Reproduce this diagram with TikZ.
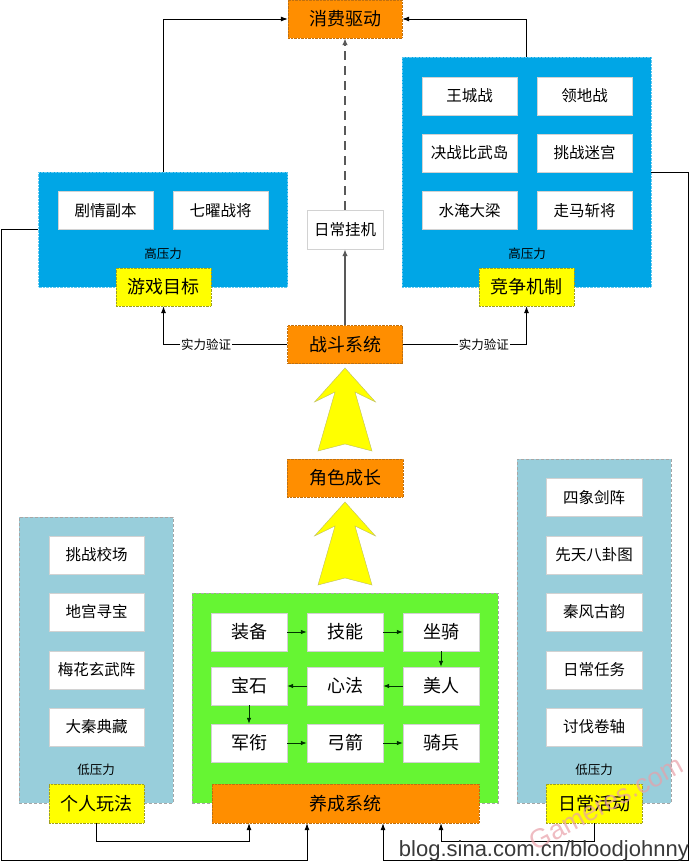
\documentclass[tikz,border=0pt]{standalone}
\usepackage{fontspec}
\newfontfamily\cjk{Noto Sans CJK SC}
\newfontfamily\latinsans{Liberation Sans}
\usetikzlibrary{arrows.meta,calc}
\definecolor{orangeC}{HTML}{FF8E00}
\definecolor{orangeD}{HTML}{C07010}
\definecolor{blueC}{HTML}{00A6E6}
\definecolor{lblue}{HTML}{98CEDB}
\definecolor{greenC}{HTML}{66F533}
\definecolor{yellowC}{HTML}{FFFF00}
\definecolor{yellowD}{HTML}{A0A020}
\definecolor{wmpink}{HTML}{E8A0A8}
\begin{document}
\begin{tikzpicture}[x=1pt,y=-1pt,
  box/.style={rectangle, inner sep=0pt, align=center, text=black},
  big/.style={font=\cjk\fontsize{18}{20}\selectfont},
  mid/.style={font=\cjk\fontsize{15.5}{17}\selectfont},
  small/.style={font=\cjk\fontsize{12.5}{14}\selectfont},
  orangebox/.style={box, big, fill=orangeC, draw=orangeD, densely dotted},
  yellowbox/.style={box, big, fill=yellowC, draw=yellowD, densely dotted, minimum width=95pt, minimum height=38pt},
  whitebox/.style={box, mid, fill=white, draw=gray!35, minimum width=95pt, minimum height=38pt},
  greenitem/.style={box, big, fill=white, draw=gray!35, minimum width=76pt, minimum height=38pt},
  blueregion/.style={box, fill=blueC, draw=blueC!60!white, densely dotted},
  lightregion/.style={box, fill=lblue, draw=gray!70, densely dashed},
  greenregion/.style={box, fill=greenC, draw=gray!70, densely dashed},
  conn/.style={draw=black, line width=0.8pt, -{Latex[length=7pt,width=5pt]}},
  gconn/.style={draw=black!80!green, line width=0.8pt, -{Latex[length=6pt,width=4.5pt]}},
  grayconn/.style={draw=gray!70!black, line width=1.4pt, -{Latex[length=7pt,width=5.5pt]}},
  yarrow/.style={fill=yellowC, draw=yellowD!70, line width=0.4pt},
  lbl/.style={box, small, fill=white, inner sep=1pt}
]
\useasboundingbox (0,0) rectangle (690,862);

% ---------- top ----------
\node[orangebox, minimum width=114pt, minimum height=38pt] (xf) at (345,19) {消费驱动};

% left blue region
\node[blueregion, minimum width=249pt, minimum height=115pt] (LB) at (163,229.5) {};
\node[whitebox] (jq) at (105.5,210.5) {剧情副本};
\node[whitebox] (qy) at (220.5,210.5) {七曜战将};
\node[box, small] (hyL) at (163,254) {高压力};
\node[yellowbox] (yxmb) at (163.5,287) {游戏目标};

% right blue region
\node[blueregion, minimum width=249pt, minimum height=230pt] (RB) at (526.5,172) {};
\node[whitebox] (wcz) at (469.5,96) {王城战};
\node[whitebox] (ldz) at (584.5,96) {领地战};
\node[whitebox] (jzbwd) at (469.5,153) {决战比武岛};
\node[whitebox] (tzmg) at (584.5,153) {挑战迷宫};
\node[whitebox] (sydl) at (469.5,210.5) {水淹大梁};
\node[whitebox] (zmzj) at (584.5,210.5) {走马斩将};
\node[box, small] (hyR) at (527,254) {高压力};
\node[yellowbox] (jzjz) at (526.5,287) {竞争机制};

% middle
\node[whitebox, minimum width=76pt, minimum height=39pt] (rcgj) at (345,229.5) {日常挂机};
\node[orangebox, minimum width=115pt, minimum height=38pt] (zd) at (345,344.5) {战斗系统};
\node[orangebox, minimum width=116pt, minimum height=38pt] (jscz) at (345,478) {角色成长};

% yellow block arrows
\foreach \dy in {0,134}{
  \begin{scope}[shift={(0,\dy)}]
    \draw[yarrow] (345,368) -- (375.5,402) -- (355,392) -- (372,451) -- (345,444) -- (318,451) -- (335,392) -- (314.5,402) -- cycle;
  \end{scope}
}

% ---------- bottom left ----------
\node[lightregion, minimum width=154pt, minimum height=286pt] (LL) at (96,660) {};
\node[whitebox] (tzxc) at (96.5,555) {挑战校场};
\node[whitebox] (dgxb) at (96.5,612) {地宫寻宝};
\node[whitebox] (mhxwz) at (96.5,670) {梅花玄武阵};
\node[whitebox] (dqdc) at (96.5,727) {大秦典藏};
\node[box, small] (dyL) at (96,770) {低压力};
\node[yellowbox, minimum height=39pt] (grwf) at (96.5,803.5) {个人玩法};

% ---------- bottom center ----------
\node[greenregion, minimum width=306pt, minimum height=210pt] (G) at (345,698) {};
\node[greenitem] (zb) at (249,632) {装备};
\node[greenitem] (jn) at (345,632) {技能};
\node[greenitem] (zq) at (441,632) {坐骑};
\node[greenitem] (bs) at (249,686) {宝石};
\node[greenitem] (xf2) at (345,686) {心法};
\node[greenitem] (mr) at (441,686) {美人};
\node[greenitem] (jx) at (249,743) {军衔};
\node[greenitem] (gj) at (345,743) {弓箭};
\node[greenitem] (qb) at (441,743) {骑兵};
\node[orangebox, minimum width=267pt, minimum height=39pt] (ycxt) at (345.5,803.5) {养成系统};

% ---------- bottom right ----------
\node[lightregion, minimum width=154pt, minimum height=344pt] (RL) at (594,631) {};
\node[whitebox, minimum width=96pt] (sxjz) at (594,497.5) {四象剑阵};
\node[whitebox, minimum width=96pt] (xtbgt) at (594,555) {先天八卦图};
\node[whitebox, minimum width=96pt] (qfgy) at (594,612) {秦风古韵};
\node[whitebox, minimum width=96pt] (rcrw) at (594,670) {日常任务};
\node[whitebox, minimum width=96pt] (tfjz) at (594,727) {讨伐卷轴};
\node[box, small] (dyR) at (594,770) {低压力};
\node[yellowbox, minimum width=96pt, minimum height=39pt] (rchd) at (594,803.5) {日常活动};

% ---------- connectors ----------
\draw[conn] (LB.north) |- (xf.west);
\draw[conn] (RB.north) |- (xf.east);
\draw[grayconn] (zd.north) -- (rcgj.south);
\draw[grayconn, dash pattern=on 9pt off 6pt] (rcgj.north) -- (xf.south);
\draw[conn] (zd.west) -| node[lbl, pos=0.328] {实力验证} (yxmb.south);
\draw[conn] (zd.east) -| node[lbl, pos=0.328] {实力验证} (jzjz.south);

% green chain
\draw[gconn] (zb.east) -- (jn.west);
\draw[gconn] (jn.east) -- (zq.west);
\draw[gconn] (zq.south) -- (mr.north);
\draw[gconn] (mr.west) -- (xf2.east);
\draw[gconn] (xf2.west) -- (bs.east);
\draw[gconn] (bs.south) -- (jx.north);
\draw[gconn] (jx.east) -- (gj.west);
\draw[gconn] (gj.east) -- (qb.west);

% feedback loops into 养成系统
\draw[conn] (LB.west) -| (1,860) -| ([xshift=-38.5pt]ycxt.south);
\draw[conn] (grwf.south) -- ++(0,18) -| ([xshift=-96.5pt]ycxt.south);
\draw[conn] (RB.east) -| (688,860) -| ([xshift=37.5pt]ycxt.south);
\draw[conn] (rchd.south) -- ++(0,18) -| ([xshift=95.5pt]ycxt.south);

% ---------- watermarks ----------
\node[box, text=wmpink, opacity=0.7, rotate=28, font=\latinsans\fontsize{27}{30}\selectfont] (wm2) at (606,803) {Gameres.com};
\node[box, text=gray!45!black, anchor=base east, font=\latinsans\fontsize{22}{24}\selectfont] (wm1) at (689,856) {blog.sina.com.cn/bloodjohnny};
\end{tikzpicture}
\end{document}
